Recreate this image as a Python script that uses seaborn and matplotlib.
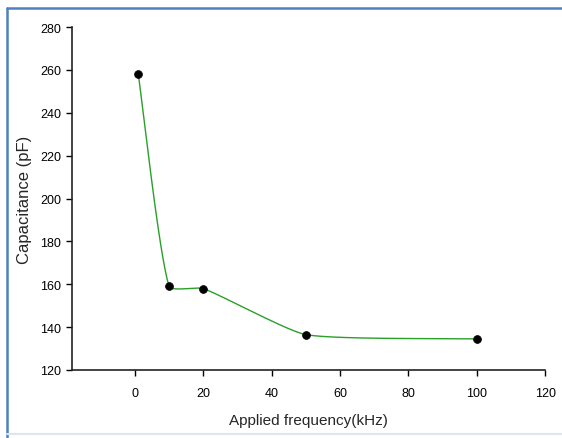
import numpy as np
import pandas as pd
import matplotlib
matplotlib.use("Agg")
import matplotlib.pyplot as plt
from matplotlib.lines import Line2D
import seaborn as sns

# Data
frequency_khz = [1, 10, 20, 50, 100]
capacitance_pf = [258, 159, 158, 136.5, 134.5]
x_ticks = [0, 20, 40, 60, 80, 100, 120]
y_ticks = [120, 140, 160, 180, 200, 220, 240, 260, 280]

sns.set_style("ticks")
plt.rcParams["font.family"] = ["Liberation Sans", "DejaVu Sans"]

fig = plt.figure(figsize=(5.62, 4.39), dpi=100)
ax = fig.add_axes([0.128, 0.155, 0.842, 0.781])
ax.set_xlim(-18.4, 120)
ax.set_ylim(120, 280)


def smooth_curve(ax, xd, yd, tension=1 / 6, n=80):
    """Parametric Bezier smoothing through the points, done in display space."""
    P = ax.transData.transform(np.column_stack([xd, yd]))
    k = len(P)
    chords = np.linalg.norm(np.diff(P, axis=0), axis=1)
    dirs = []
    for i in range(k):
        if i == 0:
            v = P[1] - P[0]
        elif i == k - 1:
            v = P[-1] - P[-2]
        else:
            v = P[i + 1] - P[i - 1]
        dirs.append(v / np.linalg.norm(v))
    pts = []
    t = np.linspace(0, 1, n)[:, None]
    for i in range(k - 1):
        L = tension * chords[i]
        c1 = P[i] + dirs[i] * L
        c2 = P[i + 1] - dirs[i + 1] * L
        seg = ((1 - t) ** 3) * P[i] + 3 * ((1 - t) ** 2) * t * c1 \
            + 3 * (1 - t) * t ** 2 * c2 + t ** 3 * P[i + 1]
        pts.append(seg if i == 0 else seg[1:])
    pts = np.vstack(pts)
    return ax.transData.inverted().transform(pts)


cur = smooth_curve(ax, frequency_khz, capacitance_pf)
curve = pd.DataFrame({"f": cur[:, 0], "c": cur[:, 1]})
points = pd.DataFrame({"f": frequency_khz, "c": capacitance_pf})

sns.lineplot(data=curve, x="f", y="c", ax=ax, color="#2a9f2a", linewidth=1.0,
             sort=False, estimator=None)
sns.scatterplot(data=points, x="f", y="c", ax=ax, color="black", s=32,
                edgecolor="black", linewidth=0.5, zorder=5)

ax.set_xlim(-18.4, 120)
ax.set_ylim(120, 280)
ax.set_xticks(x_ticks)
ax.set_yticks(y_ticks)
ax.tick_params(axis="both", direction="out", length=4, width=1.0,
               labelsize=9, colors="black")
ax.tick_params(axis="y", pad=4)
ax.tick_params(axis="x", pad=8)
for s in ["top", "right"]:
    ax.spines[s].set_visible(False)
for s in ["left", "bottom"]:
    ax.spines[s].set_linewidth(1.2)
    ax.spines[s].set_color("#222222")

ax.set_xlabel("Applied frequency(kHz)", fontsize=11, labelpad=10)
ax.set_ylabel("Capacitance (pF)", fontsize=12)
ax.yaxis.set_label_coords(-0.085, 0.5)

# outer frame like the reference screenshot
fig.add_artist(Line2D([0.012, 0.012], [0.0, 0.979], transform=fig.transFigure,
                      color="#4f81bd", linewidth=1.8))
fig.add_artist(Line2D([0.012, 1.0], [0.979, 0.979], transform=fig.transFigure,
                      color="#4f81bd", linewidth=1.8))
fig.add_artist(Line2D([0.012, 1.0], [0.008, 0.008], transform=fig.transFigure,
                      color="#dce6f0", linewidth=1.5))

fig.savefig("out.png", dpi=100, facecolor="white")
